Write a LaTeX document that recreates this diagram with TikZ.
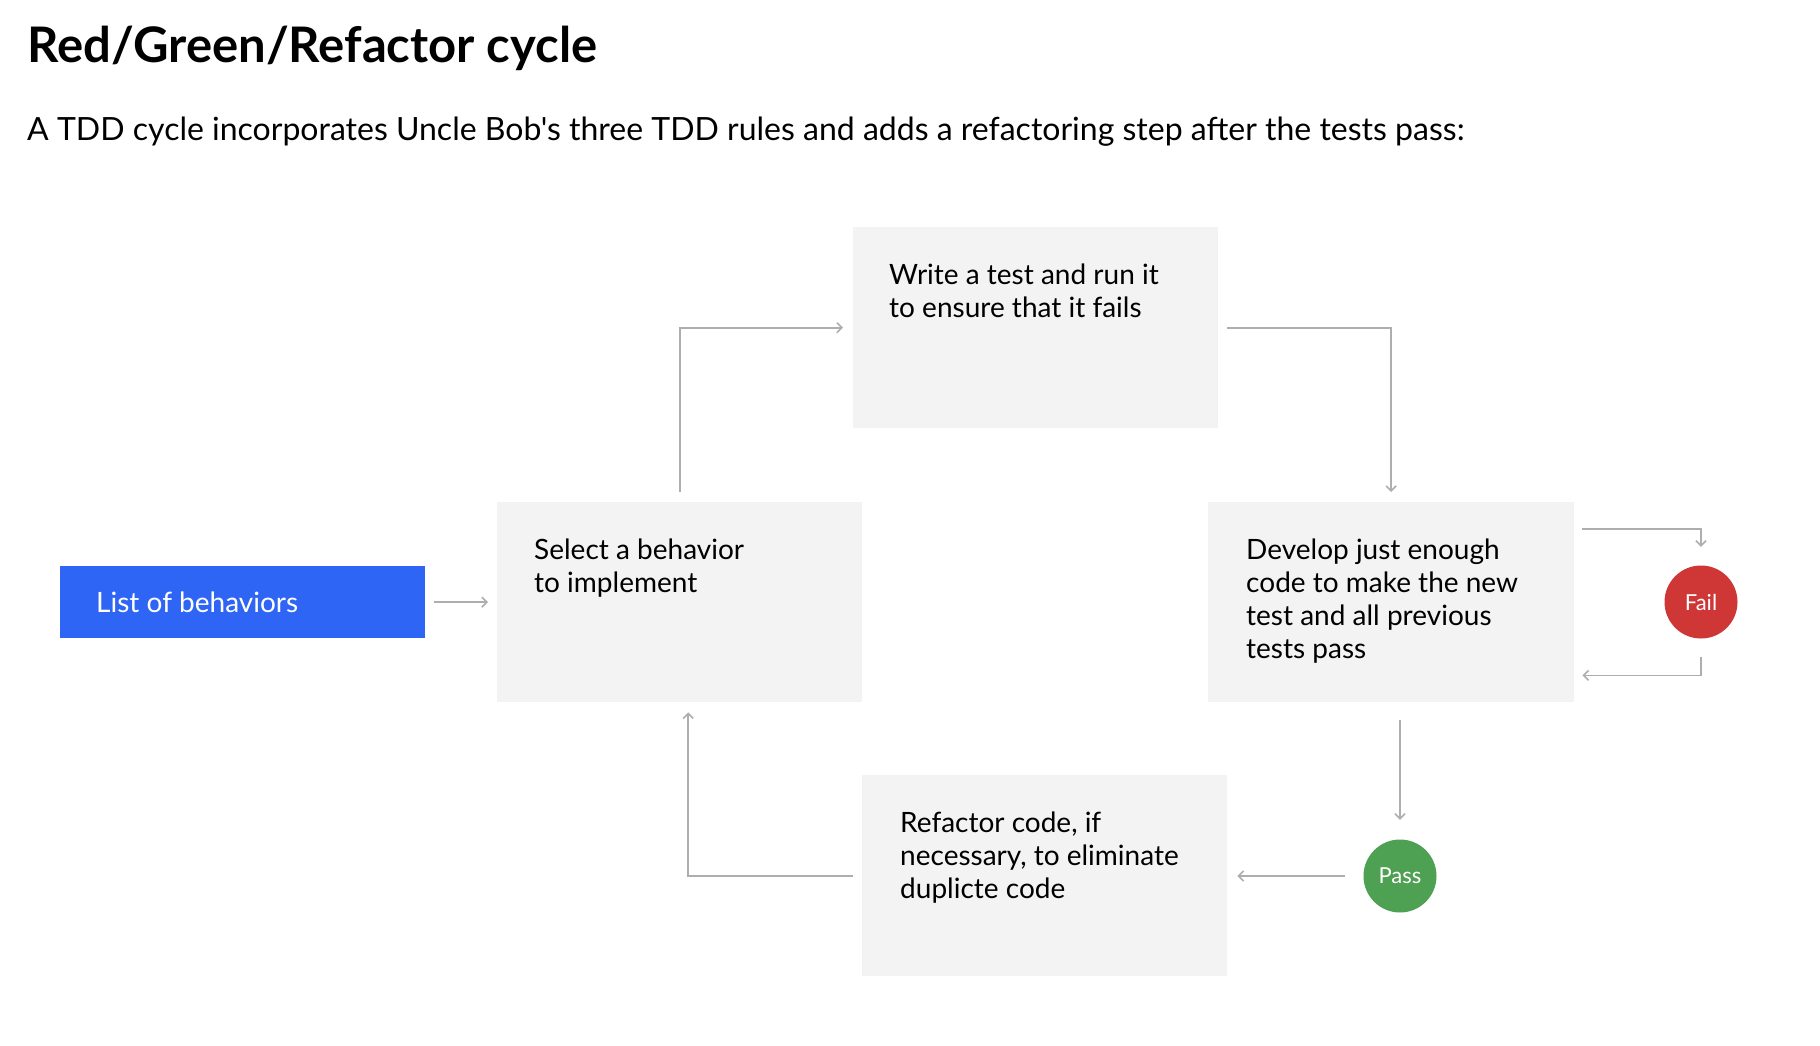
\documentclass[tikz,border=0pt]{standalone}
\usepackage{fontspec}
\setmainfont{Lato}[Ligatures=TeXOff]
\usetikzlibrary{arrows.meta}
\definecolor{boxgray}{HTML}{F3F3F3}
\definecolor{listblue}{HTML}{2E65F5}
\definecolor{failred}{HTML}{CF3636}
\definecolor{passgreen}{HTML}{4EA052}
\definecolor{linegray}{HTML}{AEAEAE}
\begin{document}
\begin{tikzpicture}[x=1pt,y=-1pt,
  box/.style={fill=boxgray, draw=none, rectangle, minimum width=365, minimum height=200, inner sep=0, anchor=north west},
  bluebox/.style={fill=listblue, draw=none, rectangle, minimum width=365, minimum height=72, inner sep=0, anchor=north west},
  boxtext/.style={anchor=north west, inner sep=0, align=left, font=\fontsize{28}{33}\selectfont, text=black},
  dot/.style={circle, minimum size=73, inner sep=0, text=white, font=\fontsize{22}{26}\selectfont},
  conn/.style={draw=linegray, line width=1.6, -{Straight Barb[length=5,width=10]}}
]
\fill[white] (0,0) rectangle (1820,1046);
\useasboundingbox (0,0) rectangle (1820,1046);

\node[anchor=base west, inner sep=0, font=\fontsize{49}{58}\selectfont\bfseries] (title) at (27,63) {Red/Green/Refactor cycle};
\node[anchor=base west, inner sep=0, font=\fontsize{32}{38}\selectfont] (subtitle) at (27,140) {A TDD cycle incorporates Uncle Bob's three TDD rules and adds a refactoring step after the tests pass:};

\node[bluebox] (list) at (60,566) {};
\node[anchor=base west, inner sep=0, text=white, font=\fontsize{28}{33}\selectfont] (listtxt) at (96,612) {List of behaviors};

\node[box] (select) at (497,502) {};
\node[box, minimum height=201] (write) at (853,227) {};
\node[box, minimum width=366] (develop) at (1208,502) {};
\node[box, minimum height=201] (refactor) at (862,775) {};

\node[boxtext] (selecttxt) at ([xshift=37,yshift=-33.9]select.north west) {\strut Select a behavior\\to implement};
\node[boxtext] (writetxt) at ([xshift=36,yshift=-33.9]write.north west) {\strut Write a test and run it\\to ensure that it fails};
\node[boxtext] (developtxt) at ([xshift=38,yshift=-33.9]develop.north west) {\strut Develop just enough\\code to make the new\\test and all previous\\tests pass};
\node[boxtext] (refactortxt) at ([xshift=38,yshift=-33.9]refactor.north west) {\strut Refactor code, if\\necessary, to eliminate\\duplicte code};

\node[dot, fill=failred] (fail) at (1701,602) {Fail};
\node[dot, fill=passgreen] (pass) at (1400,876) {Pass};

\draw[conn, shorten <=9, shorten >=9] (list.east) -- (select.west);
\draw[conn, shorten <=10, shorten >=10] (select.north) -- (select.north |- write.west) -- (write.west);
\draw[conn, shorten <=9, shorten >=10] (write.east) -- (write.east -| develop.north) -- (develop.north);
\draw[conn, shorten <=8, shorten >=18.5] ([yshift=-27]develop.north east) -| (fail.north);
\draw[conn, shorten <=18.5, shorten >=8] (fail.south) |- ([yshift=27]develop.south east);
\draw[conn, shorten <=18, shorten >=19.5] (develop.south -| pass.north) -- (pass.north);
\draw[conn, shorten <=18.5, shorten >=10] (pass.west) -- (pass.west -| refactor.east);
\draw[conn, shorten <=9, shorten >=10] (refactor.west) -| ([xshift=8.5]select.south);
\end{tikzpicture}
\end{document}
